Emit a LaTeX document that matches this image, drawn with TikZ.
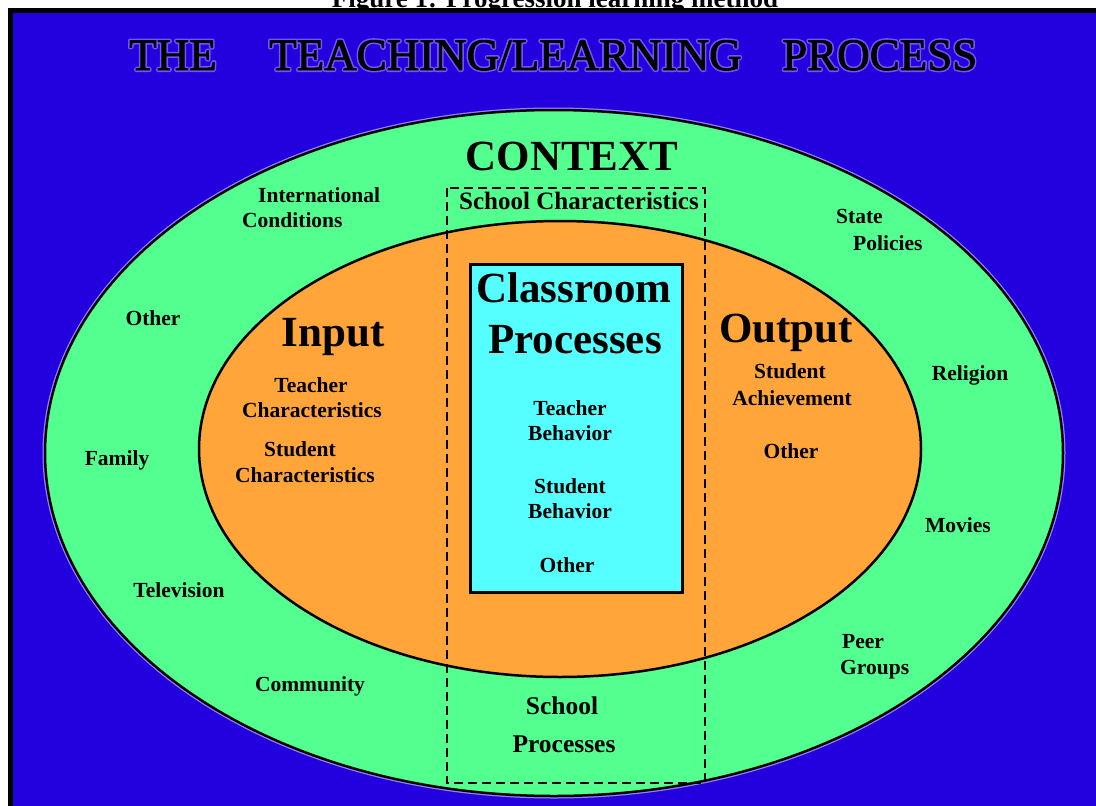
\documentclass[tikz,border=0pt]{standalone}
\usepackage{fontspec}
\setmainfont{Liberation Serif}
\definecolor{bgblue}{RGB}{35,0,222}
\definecolor{ctxgreen}{RGB}{82,255,143}
\definecolor{inorange}{RGB}{255,165,58}
\definecolor{boxcyan}{RGB}{85,255,255}
\definecolor{halo}{RGB}{150,130,255}
\newcommand{\haloText}[1]{\special{pdf:literal direct 2 Tr 0.45 0.33 0.97 RG 0.45 0.33 0.97 rg 4 w 1 j}#1\special{pdf:literal direct 0 Tr 0 j}}
\newcommand{\boldText}[1]{\special{pdf:literal direct 2 Tr 0 0 0 RG 0 0 0 rg 0.9 w}#1\special{pdf:literal direct 0 Tr}}
\begin{document}
\begin{tikzpicture}[x=1pt,y=-1pt,
  lbl/.style={font=\fontsize{21.5}{24}\selectfont\bfseries, anchor=base, inner sep=0pt},
  lblw/.style={lbl, anchor=base west},
  big/.style={font=\fontsize{43}{48}\selectfont\bfseries, anchor=base, inner sep=0pt},
  ttl/.style={font=\fontsize{45}{50}\selectfont, anchor=base west, inner sep=0pt},
  mid/.style={font=\fontsize{25.5}{28}\selectfont\bfseries, anchor=base, inner sep=0pt},
  ring/.style={draw=black, line width=2.5pt},
  dashbox/.style={draw=black, line width=1.2pt, dash pattern=on 9pt off 5pt}]
\useasboundingbox (0,0) rectangle (1096,806);
\fill[white] (0,0) rectangle (1096,806);
\node[font=\fontsize{27}{30}\selectfont\bfseries, anchor=base, inner sep=0pt] (cap) at (555,7.5) {Figure 1: Progression learning method};
\fill[black] (8,8) rectangle (1096,806);
\fill[bgblue] (13,13) rectangle (1096,806);
% title halo
\node[ttl] (h1) at (129,70) {\haloText{THE}};
\node[ttl] (h2) at (269,70) {\haloText{TEACHING/LEARNING}};
\node[ttl] (h3) at (782,70) {\haloText{PROCESS}};
% title
\node[ttl] (t1) at (129,70) {\boldText{THE}};
\node[ttl] (t2) at (269,70) {\boldText{TEACHING/LEARNING}};
\node[ttl] (t3) at (782,70) {\boldText{PROCESS}};
% context ellipse
\draw[halo, line width=5pt] (554,453) ellipse [x radius=509pt, y radius=343pt];
\fill[ctxgreen, ring] (554,453) ellipse [x radius=509pt, y radius=343pt];
\fill[inorange, ring] (560,449) ellipse [x radius=361pt, y radius=228pt];
% school box
\draw[dashbox] (447,188) rectangle (705,783);
% classroom box
\draw[fill=boxcyan, draw=black, line width=3pt] (470.5,264.5) rectangle (682.5,592.5);
% headings
\node[font=\fontsize{43}{48}\selectfont\bfseries, anchor=base, inner sep=0pt] (context) at (572,170) {CONTEXT};
\node[mid, font=\fontsize{25}{28}\selectfont\bfseries] (schchar) at (579,209) {School Characteristics};
\node[big] (input) at (333,346) {Input};
\node[big, anchor=base west] (output) at (719,342) {Output};
\node[big] (class1) at (574,302) {Classroom};
\node[big] (class2) at (575,353) {Processes};
% context labels
\node[lblw] (intl1) at (258,202) {International};
\node[lblw] (intl2) at (242,227) {Conditions};
\node[lblw] (state1) at (836,223) {State};
\node[lblw] (state2) at (853,250) {Policies};
\node[lbl] (othl) at (153,325) {Other};
\node[lbl] (family) at (117,465) {Family};
\node[lbl] (tv) at (179,597) {Television};
\node[lbl] (comm) at (310,691) {Community};
\node[lbl] (relig) at (970,380) {Religion};
\node[lbl] (movies) at (958,532) {Movies};
\node[lblw] (peer1) at (842,648) {Peer};
\node[lblw] (peer2) at (840,674) {Groups};
% input labels
\node[lbl] (in1) at (311,392) {Teacher};
\node[lbl] (in2) at (312,417) {Characteristics};
\node[lbl] (in3) at (300,456) {Student};
\node[lbl] (in4) at (305,482) {Characteristics};
% output labels
\node[lbl] (out1) at (790,378) {Student};
\node[lbl] (out2) at (792,405) {Achievement};
\node[lbl] (out3) at (791,458) {Other};
% classroom labels
\node[lbl] (cl1) at (570,415) {Teacher};
\node[lbl] (cl2) at (570,440) {Behavior};
\node[lbl] (cl3) at (570,493) {Student};
\node[lbl] (cl4) at (570,518) {Behavior};
\node[lbl] (cl5) at (567,572) {Other};
% school processes
\node[mid] (sp1) at (562,714) {School};
\node[mid] (sp2) at (564,752) {Processes};
\end{tikzpicture}
\end{document}
